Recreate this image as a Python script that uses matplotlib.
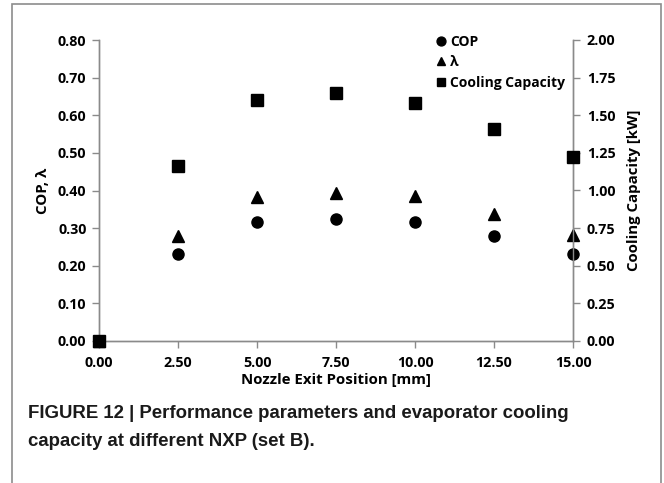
import matplotlib
matplotlib.use("Agg")
import matplotlib.pyplot as plt
from matplotlib.patches import Rectangle

# Data
nxp = [0.0, 2.5, 5.0, 7.5, 10.0, 12.5, 15.0]
cop = [0.0, 0.230, 0.316, 0.325, 0.316, 0.279, 0.232]
lam = [0.0, 0.280, 0.383, 0.393, 0.385, 0.337, 0.282]
cooling = [0.0, 1.16, 1.60, 1.65, 1.58, 1.41, 1.22]

xticks = [0.0, 2.5, 5.0, 7.5, 10.0, 12.5, 15.0]
left_ticks = [0.0, 0.1, 0.2, 0.3, 0.4, 0.5, 0.6, 0.7, 0.8]
right_ticks = [0.0, 0.25, 0.5, 0.75, 1.0, 1.25, 1.5, 1.75, 2.0]

plt.rcParams['font.family'] = ['Open Sans', 'DejaVu Sans']
plt.rcParams['font.weight'] = 'bold'

W, H = 664, 483
fig = plt.figure(figsize=(W / 100, H / 100), dpi=100)

fig.patches.append(Rectangle((12 / W, -0.01), (661 - 12) / W, 1 - 4 / H + 0.01,
                             transform=fig.transFigure, fill=False,
                             edgecolor='#8c8c8c', linewidth=1.2))

ax = fig.add_axes([99 / W, 1 - 341 / H, (573 - 99) / W, (341 - 40) / H])
ax2 = ax.twinx()

spine_c = '#8a8a8a'
for a in (ax, ax2):
    for s in a.spines.values():
        s.set_color(spine_c)
        s.set_linewidth(1.0)
    a.spines['top'].set_visible(False)
    a.tick_params(colors='black', which='both', length=5, width=1.0,
                  labelsize=10.3, direction='out')
    a.tick_params(axis='both', color=spine_c)

ax.set_xlim(0, 15)
ax.set_ylim(0, 0.8)
ax2.set_ylim(0, 2.0)
ax.set_xticks(xticks)
ax.set_xticklabels([f"{v:.2f}" for v in xticks])
ax.set_yticks(left_ticks)
ax.set_yticklabels([f"{v:.2f}" for v in left_ticks])
ax2.set_yticks(right_ticks)
ax2.set_yticklabels([f"{v:.2f}" for v in right_ticks])
ax.tick_params(axis='x', pad=6)
ax.tick_params(axis='y', pad=4)
ax2.tick_params(axis='y', pad=5)

h1, = ax.plot(nxp, cop, 'o', color='black', markersize=8, clip_on=False, zorder=5, label='COP')
h2, = ax.plot(nxp, lam, '^', color='black', markersize=8, clip_on=False, zorder=5, label='λ')
h3, = ax2.plot(nxp, cooling, 's', color='black', markersize=8, clip_on=False, zorder=6,
               label='Cooling Capacity')

ax.set_xlabel('Nozzle Exit Position [mm]', fontsize=10.8, fontweight='bold', labelpad=2)
ax.set_ylabel('COP, λ', fontsize=10.8, fontweight='bold', labelpad=6)
ax2.set_ylabel('Cooling Capacity [kW]', fontsize=10.8, fontweight='bold', labelpad=8)

leg = ax.legend(handles=[h1, h2, h3], loc='upper left', bbox_to_anchor=(0.699, 1.035),
                frameon=False, fontsize=10, handlelength=0.7, handletextpad=0.3,
                labelspacing=0.45, borderaxespad=0, markerscale=0.8)
leg.set_zorder(10)

fig.text(28 / W, 1 - 413 / H, 'FIGURE 12 | Performance parameters and evaporator cooling',
         fontsize=13.4, fontweight='bold', family=['Liberation Sans', 'DejaVu Sans'],
         va='center', ha='left', color='#1a1a1a')
fig.text(28 / W, 1 - 442 / H, 'capacity at different NXP (set B).',
         fontsize=13.4, fontweight='bold', family=['Liberation Sans', 'DejaVu Sans'],
         va='center', ha='left', color='#1a1a1a')

fig.savefig('out.png', dpi=100)
